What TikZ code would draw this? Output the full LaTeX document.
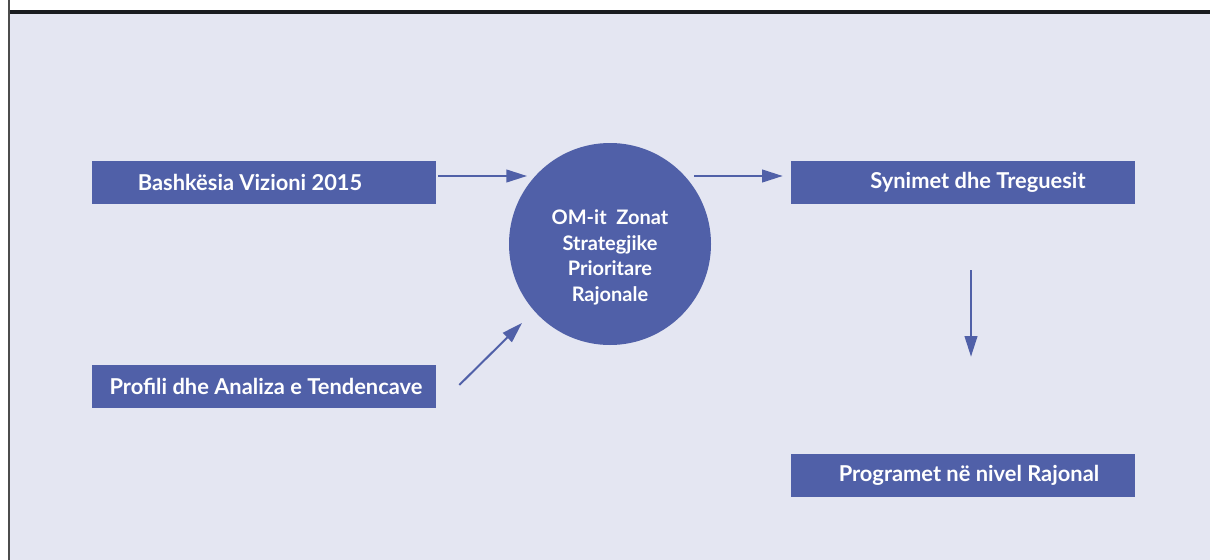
\documentclass[tikz,border=0pt]{standalone}
\usepackage{fontspec}
\setmainfont{Lato}
\usetikzlibrary{arrows.meta}
\definecolor{panel}{RGB}{228,230,242}
\definecolor{boxblue}{RGB}{80,96,168}
\definecolor{band}{RGB}{26,28,32}

\begin{document}
\begin{tikzpicture}[x=0.75pt, y=-0.75pt, font=\bfseries,
  box/.style={fill=boxblue, minimum width=258pt, minimum height=32.25pt, inner sep=0pt},
  boxtext/.style={text=white, font=\fontsize{16.4}{20}\selectfont\bfseries},
  hubtext/.style={text=white, align=center, font=\fontsize{15}{19.2}\selectfont\bfseries},
  flow/.style={draw=boxblue, line width=1.5pt, -{Triangle[length=15.5pt,width=9.5pt]}}]
	\useasboundingbox (0,0) rectangle (1210,560);
	\fill[panel] (10,14) rectangle (1210,560);
	\fill[band] (10,10) rectangle (1210,14);
	\draw[gray!60!black, line width=1.5pt] (9,0) -- (9,560);
	% boxes and the centre circle
	\node[box, label={[boxtext, xshift=-10.5pt]center:Bashkësia Vizioni 2015}] (vision) at (264,182.5) {};
	\node[box, label={[boxtext, xshift=1.5pt]center:Profili dhe Analiza e Tendencave}] (profile) at (264,386.5) {};
	\node[box, label={[boxtext, xshift=11.25pt]center:Synimet dhe Treguesit}] (goals) at (963,182.5) {};
	\node[box, label={[boxtext, xshift=4.5pt]center:Programet në nivel Rajonal}] (programs) at (963,475.5) {};
	\node[circle, fill=boxblue, minimum size=151.5pt, inner sep=0pt,
	  label={[hubtext, yshift=-10pt]center:OM-it\ \ Zonat\\Strategjike\\Prioritare\\Rajonale}] (hub) at (610,244) {};
	% arrows
	\draw[flow] ([shift={(2,-6.5)}]vision.east) -- ([shift={(-83,-68)}]hub.center);
	\draw[flow] ([shift={(84,-68)}]hub.center) -- ([shift={(-8,-6.5)}]goals.west);
	\draw[flow] ([shift={(23,-1.5)}]profile.east) -- ([shift={(-88,79)}]hub.center);
	\draw[flow] ([shift={(8,66)}]goals.south) -- ([shift={(8,-97)}]programs.north);
\end{tikzpicture}
\end{document}
